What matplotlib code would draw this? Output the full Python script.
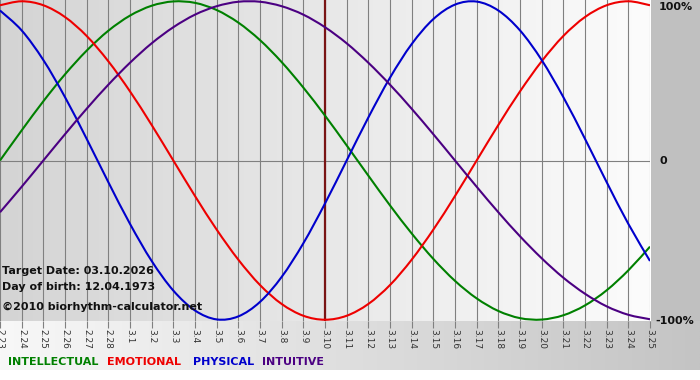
import numpy as np
import matplotlib
matplotlib.use("Agg")
import matplotlib.pyplot as plt
from matplotlib.colors import LinearSegmentedColormap
from matplotlib.path import Path
from matplotlib.patches import PathPatch

# day labels along the bottom (target date 3.10 in the middle)
days = ["2.23", "2.24", "2.25", "2.26", "2.27", "2.28",
        "3.1", "3.2", "3.3", "3.4", "3.5", "3.6", "3.7", "3.8", "3.9", "3.10",
        "3.11", "3.12", "3.13", "3.14", "3.15", "3.16", "3.17", "3.18", "3.19",
        "3.20", "3.21", "3.22", "3.23", "3.24", "3.25"]
target_idx = 15

# daily values (-1 .. 1) for each cycle
intellectual = [0.000, 0.189, 0.372, 0.541, 0.690, 0.815, 0.910, 0.972, 0.999, 0.990,
                0.945, 0.866, 0.756, 0.618, 0.458, 0.282, 0.095, -0.095, -0.282, -0.458,
                -0.618, -0.756, -0.866, -0.945, -0.990, -0.999, -0.972, -0.910, -0.815,
                -0.690, -0.541]
emotional = [0.975, 1.000, 0.975, 0.901, 0.782, 0.623, 0.434, 0.223, 0.000, -0.223,
             -0.434, -0.623, -0.782, -0.901, -0.975, -1.000, -0.975, -0.901, -0.782,
             -0.623, -0.434, -0.223, 0.000, 0.223, 0.434, 0.623, 0.782, 0.901, 0.975,
             1.000, 0.975]
physical = [0.942, 0.817, 0.631, 0.398, 0.136, -0.136, -0.398, -0.631, -0.817, -0.942,
            -0.998, -0.979, -0.888, -0.731, -0.520, -0.270, 0.000, 0.270, 0.520, 0.731,
            0.888, 0.979, 0.998, 0.942, 0.817, 0.631, 0.398, 0.136, -0.136, -0.398,
            -0.631]
intuitive = [-0.325, -0.165, 0.000, 0.165, 0.325, 0.476, 0.614, 0.736, 0.837, 0.916,
             0.969, 0.997, 0.997, 0.969, 0.916, 0.837, 0.736, 0.614, 0.476, 0.325,
             0.165, 0.000, -0.165, -0.325, -0.476, -0.614, -0.736, -0.837, -0.916,
             -0.969, -0.997]

series = [("INTELLECTUAL", intellectual, "#008000"),
          ("EMOTIONAL", emotional, "#ee0000"),
          ("PHYSICAL", physical, "#0000cc"),
          ("INTUITIVE", intuitive, "#4b0082")]

W, H = 700, 380
fig = plt.figure(figsize=(W / 100, H / 100), dpi=100)

def px(x, y):
    # pixel position -> figure fraction
    return x / W, 1 - y / H

def smooth_line(xs, ys):
    # draw the daily points as one smooth curve (catmull-rom -> bezier)
    pts = np.column_stack([xs, ys]).astype(float)
    verts, codes = [pts[0]], [Path.MOVETO]
    n = len(pts)
    for i in range(n - 1):
        p0 = pts[max(i - 1, 0)]
        p1, p2 = pts[i], pts[i + 1]
        p3 = pts[min(i + 2, n - 1)]
        verts += [p1 + (p2 - p0) / 6, p2 - (p3 - p1) / 6, p2]
        codes += [Path.CURVE4] * 3
    return Path(verts, codes)

# background layer in pixel coords
bg = fig.add_axes([0, 0, 1, 1])
bg.set_xlim(0, W)
bg.set_ylim(H, 0)
bg.axis("off")
band = LinearSegmentedColormap.from_list("band", ["#f8f8f8", "#c4c4c4"])
bg.imshow(np.linspace(0, 1, 256)[None, :], cmap=band, aspect="auto",
          extent=(0, W, 370, 321))
bg.add_patch(plt.Rectangle((651, 0), W - 651, 321, color="#c0c0c0", lw=0))

# chart area
ax = fig.add_axes([0, 1 - 321 / H, 650 / W, 321 / H])
ax.set_xlim(0, len(days) - 1)
ax.set_ylim(-1.008, 1.008)
area = LinearSegmentedColormap.from_list("area", ["#d4d4d4", "#fcfcfc"])
ax.imshow(np.linspace(0, 1, 256)[None, :], cmap=area, aspect="auto",
          extent=(0, len(days) - 1, -1.008, 1.008), zorder=0)
ax.set_facecolor("none")

x = np.arange(len(days))
for i in x:
    ax.axvline(i, color="#808080", lw=0.8, zorder=1)
ax.axhline(0, color="#808080", lw=0.8, zorder=1)
ax.axvline(target_idx, color="#7a1414", lw=1.6, zorder=2)

for name, vals, col in series:
    ax.add_patch(PathPatch(smooth_line(x, vals), fill=False, edgecolor=col,
                           lw=1.5, zorder=3))

for s in ax.spines.values():
    s.set_visible(False)
ax.set_yticks([])
ax.set_xticks(x)
ax.set_xticklabels(days, rotation=-90, fontsize=6.5, color="#333333")
ax.tick_params(axis="x", length=5, width=0.8, color="#808080", pad=1)

# percentage labels on the right
for y, t in [(7, "100%"), (161, "0"), (321, "-100%")]:
    fig.text(*px(659 if t != "-100%" else 655, y), t, fontsize=8, fontweight="bold",
             va="center", ha="left", color="#111111")

# info text
for y, t in [(271, "Target Date: 03.10.2026"), (287, "Day of birth: 12.04.1973"),
             (307, "\u00a92010 biorhythm-calculator.net")]:
    fig.text(*px(2, y), t, fontsize=8, fontweight="bold", va="center",
             color="#111111")

# legend row
for xp, (name, vals, col) in zip([8, 107, 193, 262], series):
    fig.text(*px(xp, 362), name, fontsize=8, fontweight="bold", va="center",
             color=col)

fig.savefig("out.png", dpi=100)
